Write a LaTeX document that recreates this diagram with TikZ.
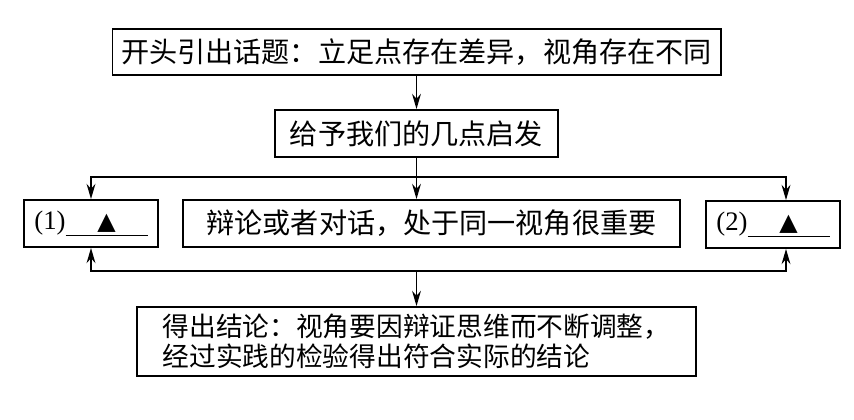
\documentclass[tikz,border=0pt]{standalone}
\usepackage{fontspec}
\newfontfamily\cjk{Noto Sans CJK SC}
\newfontfamily\symb{DejaVu Sans}
\newfontfamily\blankfont{Liberation Serif}
\usetikzlibrary{arrows.meta}

% blank to be filled in: (n)____▲____
\newcommand{\answerBlank}[1]{(#1)\underline{\makebox[2.05cm]{\symb\fontsize{17pt}{20pt}\selectfont ▲}}}

\begin{document}
\begin{tikzpicture}[
        x=0.025cm,
        y=-0.025cm,
        stepbox/.style={
            draw,
            line width=1.3pt,
            inner sep=0pt,
            font=\cjk\fontsize{20pt}{24pt}\selectfont
        },
        blankbox/.style={
            draw,
            line width=1.3pt,
            inner sep=0pt,
            minimum width=3.33cm,
            minimum height=1.175cm,
            font=\blankfont\fontsize{19pt}{22pt}\selectfont
        },
        flow/.style={
            -{Stealth[length=0.38cm,width=0.22cm]},
            line width=1.3pt
        }
    ]

    \useasboundingbox (0,0) rectangle (854,420);

    % ---------------------------------------------------------
    % Boxes
    % ---------------------------------------------------------
    \node[stepbox, minimum width=15.2cm, minimum height=1.15cm]
        (topic) at (416.5,52) {开头引出话题：立足点存在差异，视角存在不同};

    \node[stepbox, minimum width=7.075cm, minimum height=1.175cm]
        (hint) at (416.5,133.5) {给予我们的几点启发};

    \node[blankbox] (left) at (91,223.5) {\answerBlank{1}};

    \node[stepbox, minimum width=12.425cm, minimum height=1.175cm]
        (debate) at (431.5,223.5) {辩论或者对话，处于同一视角很重要};

    \node[blankbox] (right) at (773,224.5) {\answerBlank{2}};

    \node[stepbox, minimum width=13.975cm, minimum height=1.725cm,
          align=left, font=\cjk\fontsize{19pt}{21pt}\selectfont]
        (result) at (416.5,341.5)
        {得出结论：视角要因辩证思维而不断调整，\\
         经过实践的检验得出符合实际的结论};

    % ---------------------------------------------------------
    % Branch points
    % ---------------------------------------------------------
    \coordinate (split) at (416.5,177);
    \coordinate (join) at (416.5,271);
    \coordinate (rtop) at ([xshift=0.325cm]right.north);
    \coordinate (rbot) at ([xshift=0.325cm]right.south);

    % ---------------------------------------------------------
    % Connectors
    % ---------------------------------------------------------
    \draw[flow] (topic) -- (hint);
    \draw[flow] (hint) -- (hint |- debate.north);
    \draw[flow] (split) -| (left.north);
    \draw[flow] (split) -| (rtop);

    \draw[flow] (join) -| (left.south);
    \draw[flow] (join) -| (rbot);
    \draw[flow] (join) -- (result);

\end{tikzpicture}
\end{document}
